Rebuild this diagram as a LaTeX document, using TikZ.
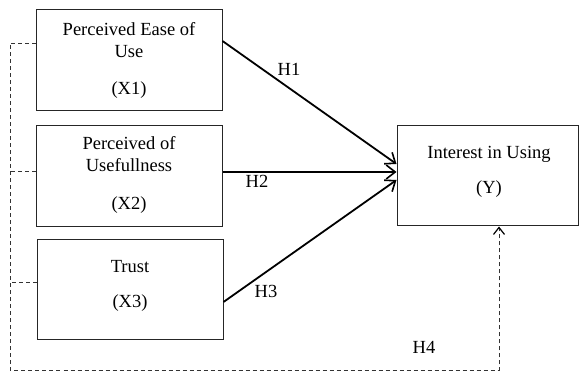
\documentclass[tikz,border=0pt]{standalone}
\usepackage{fontspec}
\setmainfont{Liberation Serif}
\usetikzlibrary{arrows.meta}
\begin{document}
\begin{tikzpicture}[x=1pt,y=-1pt,
  every node/.style={font=\fontsize{18.5}{22}\selectfont, inner sep=0pt},
  varbox/.style={draw=black!85, line width=1pt, minimum width=186pt, minimum height=101pt},
  lbl/.style={anchor=base},
  path/.style={line width=1.8pt, -{Straight Barb[length=9pt,width=14pt,line width=1.6pt]}},
  dline/.style={line width=0.9pt, dash pattern=on 4pt off 3pt, black!80},
]
\useasboundingbox (0,0) rectangle (579,371);
\node[varbox] (x1) at (129,60.5) {};
\node[varbox] (x2) at (129,176.5) {};
\node[varbox, minimum height=100pt] (x3) at (130,290) {};
\node[varbox, minimum width=181pt, minimum height=100pt] (y) at (487.5,176) {};

\node[lbl] (t1a) at (129,35.5) {Perceived Ease of};
\node[lbl] (t1b) at (129,57.5) {Use};
\node[lbl] (t1c) at (129,95) {(X1)};
\node[lbl] (t2a) at (129,150) {Perceived of};
\node[lbl] (t2b) at (129,172) {Usefullness};
\node[lbl] (t2c) at (129,210) {(X2)};
\node[lbl] (t3a) at (130,273) {Trust};
\node[lbl] (t3b) at (130,308) {(X3)};
\node[lbl] (tya) at (489,159) {Interest in Using};
\node[lbl] (tyb) at (489,194) {(Y)};

\node[lbl] (h1) at (289,76) {H1};
\node[lbl] (h2) at (257,188) {H2};
\node[lbl] (h3) at (266,298) {H3};
\node[lbl] (h4) at (424,354) {H4};

\coordinate (s2) at ([yshift=4.5pt]x2.east);
\draw[path] ([yshift=19.5pt]x1.east) -- ([yshift=12pt]y.west);
\draw[path] (s2) -- (s2 -| y.west);
\draw[path] ([yshift=-12pt]x3.east) -- ([yshift=-4pt]y.west);

\coordinate (cl) at (10,370);
\coordinate (b1) at ([yshift=17.5pt]x1.west);
\coordinate (b2) at ([yshift=5.5pt]x2.west);
\coordinate (b3) at ([yshift=8pt]x3.west);
\draw[dline, -{Straight Barb[length=7pt,width=11pt,line width=1.2pt,black]}] (b1) -| (cl) -| ([xshift=11.5pt]y.south);
\draw[dline] (b2) -- (b2 -| cl);
\draw[dline] (b3) -- (b3 -| cl);
\end{tikzpicture}
\end{document}
